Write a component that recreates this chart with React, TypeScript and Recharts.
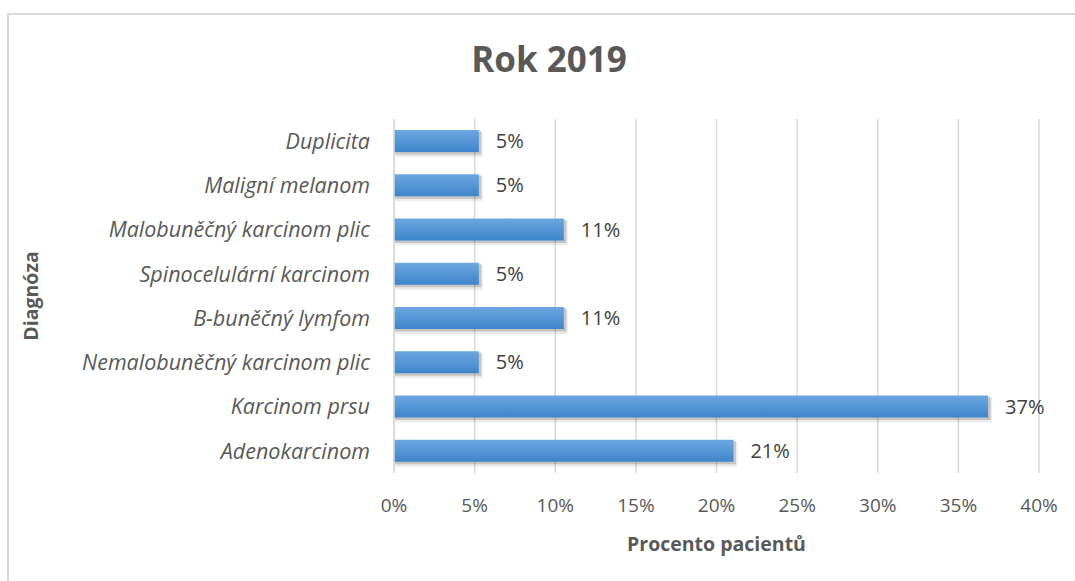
import React from "react";
import {
  BarChart, Bar, XAxis, YAxis, CartesianGrid, LabelList,
} from "recharts";

const diagnozy = [
  "Duplicita",
  "Maligní melanom",
  "Malobuněčný karcinom plic",
  "Spinocelulární karcinom",
  "B-buněčný lymfom",
  "Nemalobuněčný karcinom plic",
  "Karcinom prsu",
  "Adenokarcinom",
];
const procenta = [5.26, 5.26, 10.53, 5.26, 10.53, 5.26, 36.84, 21.05];
const xTicks = [0, 5, 10, 15, 20, 25, 30, 35, 40];

const data = diagnozy.map((nazev, i) => ({ nazev, procento: procenta[i] }));

const FONT = "'Open Sans', sans-serif";
const GRID = "#d9d9d9";

// sloupec s jemnym stinem vpravo dole
function ShadowBar(props: any) {
  const { x, y, width, height } = props;
  if (!width || width <= 0) return null;
  return (
    <g>
      <rect x={x + 1} y={y + 2} width={width + 3} height={height + 3} fill="rgba(0,0,0,0.08)" rx={1.5} />
      <rect x={x + 1} y={y + 1} width={width + 1.5} height={height + 1.5} fill="rgba(0,0,0,0.16)" />
      <rect x={x} y={y} width={width} height={height} fill="url(#barFill)" />
    </g>
  );
}

export default function App() {
  return (
    <div style={{ position: "absolute", left: 0, top: 0, width: 1075, height: 581, overflow: "hidden", background: "#fff", fontFamily: FONT }}>
      <svg width={0} height={0} style={{ position: "absolute" }}>
        <defs>
          <linearGradient id="barFill" x1="0" y1="0" x2="0" y2="1">
            <stop offset="0%" stopColor="#6ca7e0" />
            <stop offset="100%" stopColor="#3e85cc" />
          </linearGradient>
        </defs>
      </svg>

      {/* ramecek grafu */}
      <div style={{ position: "absolute", left: 7, top: 13, width: 1100, height: 600, border: `2px solid ${GRID}`, boxSizing: "border-box" }} />

      <div style={{ position: "absolute", left: 0, top: 35, width: 1098, textAlign: "center", fontSize: 35, fontWeight: 700, color: "#595959" }}>
        Rok 2019
      </div>

      <div style={{ position: "absolute", left: 0, top: 0 }}>
        <BarChart
          width={1075}
          height={581}
          data={data}
          layout="vertical"
          margin={{ top: 119, right: 36, bottom: 0, left: 0 }}
        >
          <CartesianGrid horizontal={false} stroke={GRID} strokeWidth={1.5} />
          <XAxis
            type="number"
            dataKey="procento"
            domain={[0, 40]}
            ticks={xTicks}
            tickFormatter={(v) => `${v}%`}
            axisLine={false}
            tickLine={false}
            tickSize={0}
            tickMargin={26}
            height={108}
            tick={{ fill: "#595959", fontSize: 19, fontFamily: FONT }}
            label={{
              value: "Procento pacientů",
              position: "insideBottom",
              offset: 30,
              style: { fill: "#595959", fontSize: 19.5, fontWeight: 700, fontFamily: FONT },
            }}
          />
          <YAxis
            type="category"
            dataKey="nazev"
            width={394}
            axisLine={{ stroke: GRID, strokeWidth: 1.5 }}
            tickLine={false}
            tickSize={0}
            tickMargin={24}
            interval={0}
            tick={{ fill: "#595959", fontSize: 21.5, fontStyle: "italic", fontFamily: FONT }}
            label={{
              value: "Diagnóza",
              angle: -90,
              position: "insideLeft",
              offset: 31,
              style: { fill: "#595959", fontSize: 19.5, fontWeight: 700, fontFamily: FONT, textAnchor: "middle" },
            }}
          />
          <Bar dataKey="procento" barSize={22} fill="#5b9bd5" shape={<ShadowBar />} isAnimationActive={false}>
            <LabelList
              dataKey="procento"
              position="right"
              offset={17}
              formatter={(v: number) => `${Math.round(v)}%`}
              style={{ fill: "#404040", fontSize: 20, fontFamily: FONT }}
            />
          </Bar>
        </BarChart>
      </div>
    </div>
  );
}
